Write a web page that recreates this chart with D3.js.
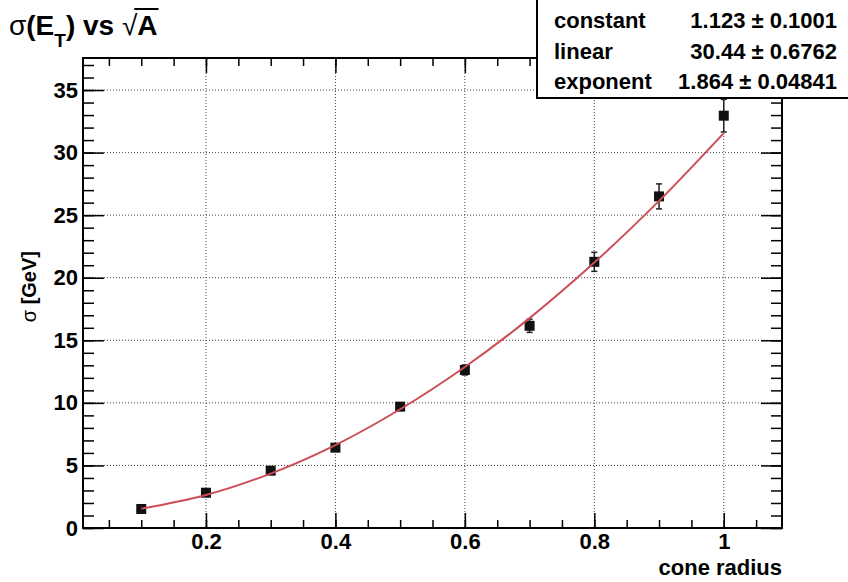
<!DOCTYPE html>
<html>
<head>
<meta charset="utf-8">
<title>sigma(E_T) vs sqrt(A)</title>
<script src="https://d3js.org/d3.v7.min.js"></script>
<style>
  body { margin: 0; background: #fff; }
  text { font-family: "Liberation Sans", Arial, sans-serif; font-weight: bold; fill: #000; }
</style>
</head>
<body>
<div id="my_dataviz"></div>
<script>

// cone radius values and fitted sigma [GeV]
var coneRadius = [0.1, 0.2, 0.3, 0.4, 0.5, 0.6, 0.7, 0.8, 0.9, 1.0];
var sigma      = [1.52, 2.82, 4.58, 6.42, 9.7, 12.63, 16.16, 21.27, 26.5, 32.95];
var sigmaErr   = [0.15, 0.2, 0.2, 0.25, 0.3, 0.4, 0.53, 0.76, 1.0, 1.3];

// red fit curve, sampled along the picture
var fitX = [0.1, 0.2, 0.3, 0.4, 0.5, 0.6, 0.7, 0.8, 0.9, 1.0];
var fitY = [1.54, 2.64, 4.35, 6.63, 9.49, 12.87, 16.77, 21.21, 26.14, 31.56];

// tick labels
var xTicks = [0.2, 0.4, 0.6, 0.8, 1];
var xTickLabels = ["0.2", "0.4", "0.6", "0.8", "1"];
var yTicks = [0, 5, 10, 15, 20, 25, 30, 35];

// fit parameters box
var statNames  = ["constant", "linear", "exponent"];
var statValues = ["1.123 \u00b1 0.1001", "30.44 \u00b1 0.6762", "1.864 \u00b1 0.04841"];

var W = 848, H = 582;
var frame = {left: 83, right: 782, top: 58, bottom: 528};

var svg = d3.select("#my_dataviz")
  .append("svg")
    .attr("width", W)
    .attr("height", H);

var x = d3.scaleLinear()
  .domain([0.01, 1.09])
  .range([frame.left, frame.right]);

var y = d3.scaleLinear()
  .domain([0, 37.56])
  .range([frame.bottom, frame.top]);

// grid (dotted) at major ticks
var grid = svg.append("g").attr("stroke", "#444").attr("stroke-width", 1).attr("stroke-dasharray", "1,2");
grid.selectAll("line.gx")
  .data(xTicks)
  .enter().append("line")
    .attr("x1", function(d) { return x(d); })
    .attr("x2", function(d) { return x(d); })
    .attr("y1", frame.top)
    .attr("y2", frame.bottom);
grid.selectAll("line.gy")
  .data(yTicks.slice(1))
  .enter().append("line")
    .attr("x1", frame.left)
    .attr("x2", frame.right)
    .attr("y1", function(d) { return y(d); })
    .attr("y2", function(d) { return y(d); });

// minor ticks
var xMinor = d3.range(0.05, 1.09, 0.05);
var yMinor = d3.range(0, 37.5, 1);

function styleAxis(g) {
  g.select(".domain").remove();
  g.selectAll(".tick line").attr("stroke", "#000").attr("stroke-width", 1.5);
}

// bottom axis
svg.append("g")
  .attr("transform", "translate(0," + frame.bottom + ")")
  .call(d3.axisBottom(x).tickValues(xMinor).tickSize(-8).tickFormat(""))
  .call(styleAxis);
svg.append("g")
  .attr("transform", "translate(0," + frame.bottom + ")")
  .call(d3.axisBottom(x).tickValues(xTicks).tickSize(-15).tickPadding(6)
    .tickFormat(function(d, i) { return xTickLabels[i]; }))
  .call(styleAxis)
  .selectAll("text").attr("font-size", 22).attr("font-family", null).attr("dy", "0.7em");

// top axis (ticks only)
svg.append("g")
  .attr("transform", "translate(0," + frame.top + ")")
  .call(d3.axisTop(x).tickValues(xMinor).tickSize(-8).tickFormat(""))
  .call(styleAxis);
svg.append("g")
  .attr("transform", "translate(0," + frame.top + ")")
  .call(d3.axisTop(x).tickValues(xTicks).tickSize(-15).tickFormat(""))
  .call(styleAxis);

// left axis
svg.append("g")
  .attr("transform", "translate(" + frame.left + ",0)")
  .call(d3.axisLeft(y).tickValues(yMinor).tickSize(-11).tickFormat(""))
  .call(styleAxis);
svg.append("g")
  .attr("transform", "translate(" + frame.left + ",0)")
  .call(d3.axisLeft(y).tickValues(yTicks).tickSize(-21).tickPadding(5))
  .call(styleAxis)
  .selectAll("text").attr("font-size", 22).attr("font-family", null);

// right axis (ticks only)
svg.append("g")
  .attr("transform", "translate(" + frame.right + ",0)")
  .call(d3.axisRight(y).tickValues(yMinor).tickSize(-11).tickFormat(""))
  .call(styleAxis);
svg.append("g")
  .attr("transform", "translate(" + frame.right + ",0)")
  .call(d3.axisRight(y).tickValues(yTicks).tickSize(-21).tickFormat(""))
  .call(styleAxis);

// frame
svg.append("rect")
  .attr("x", frame.left)
  .attr("y", frame.top)
  .attr("width", frame.right - frame.left)
  .attr("height", frame.bottom - frame.top)
  .attr("fill", "none")
  .attr("stroke", "#000")
  .attr("stroke-width", 2);

// error bars
var pts = coneRadius.map(function(d, i) { return {x: d, y: sigma[i], e: sigmaErr[i]}; });
var eb = svg.append("g").attr("stroke", "#222").attr("stroke-width", 1.5);
eb.selectAll("line.bar")
  .data(pts)
  .enter().append("line")
    .attr("x1", function(d) { return x(d.x); })
    .attr("x2", function(d) { return x(d.x); })
    .attr("y1", function(d) { return y(d.y - d.e); })
    .attr("y2", function(d) { return y(d.y + d.e); });
eb.selectAll("line.capt")
  .data(pts)
  .enter().append("line")
    .attr("x1", function(d) { return x(d.x) - 3; })
    .attr("x2", function(d) { return x(d.x) + 3; })
    .attr("y1", function(d) { return y(d.y + d.e); })
    .attr("y2", function(d) { return y(d.y + d.e); });
eb.selectAll("line.capb")
  .data(pts)
  .enter().append("line")
    .attr("x1", function(d) { return x(d.x) - 3; })
    .attr("x2", function(d) { return x(d.x) + 3; })
    .attr("y1", function(d) { return y(d.y - d.e); })
    .attr("y2", function(d) { return y(d.y - d.e); });

// markers
svg.selectAll("rect.pt")
  .data(pts)
  .enter().append("rect")
    .attr("x", function(d) { return x(d.x) - 5; })
    .attr("y", function(d) { return y(d.y) - 5; })
    .attr("width", 10)
    .attr("height", 10)
    .attr("fill", "#111");

// fit curve
var fitPts = fitX.map(function(d, i) { return [d, fitY[i]]; });
svg.append("path")
  .datum(fitPts)
  .attr("fill", "none")
  .attr("stroke", "#cd4d58")
  .attr("stroke-width", 2)
  .attr("d", d3.line()
    .x(function(d) { return x(d[0]); })
    .y(function(d) { return y(d[1]); })
    .curve(d3.curveCatmullRom));

// axis titles
svg.append("text")
  .attr("x", frame.right)
  .attr("y", 575)
  .attr("text-anchor", "end")
  .attr("font-size", 22)
  .text("cone radius");

svg.append("text")
  .attr("transform", "translate(36,251) rotate(-90)")
  .attr("text-anchor", "end")
  .attr("font-size", 20)
  .call(function(t) {
    t.append("tspan").attr("font-weight", "normal").text("\u03c3");
    t.append("tspan").text(" [GeV]");
  });

// title
var title = svg.append("text")
  .attr("x", 9)
  .attr("y", 35)
  .attr("font-size", 28);
title.append("tspan").attr("font-weight", "normal").text("\u03c3");
title.append("tspan").text("(E");
title.append("tspan").attr("font-size", 19).attr("dy", 12).text("T");
title.append("tspan").attr("dy", -12).text(") vs ");
title.append("tspan").attr("font-weight", "normal").text("\u221a");
title.append("tspan").text("A");
var tn = title.node();
var nChars = tn.getNumberOfChars();
var aStart = tn.getStartPositionOfChar(nChars - 1).x;
var aEnd = tn.getEndPositionOfChar(nChars - 1).x;
svg.append("line")
  .attr("x1", aStart - 3)
  .attr("x2", aEnd + 1)
  .attr("y1", 9)
  .attr("y2", 9)
  .attr("stroke", "#000")
  .attr("stroke-width", 2);

// stat box
var box = svg.append("g");
box.append("rect")
  .attr("x", 537)
  .attr("y", -2)
  .attr("width", 320)
  .attr("height", 100)
  .attr("fill", "#fff")
  .attr("stroke", "#000")
  .attr("stroke-width", 2);
statNames.forEach(function(s, i) {
  box.append("text")
    .attr("x", 554)
    .attr("y", 28 + i * 30.5)
    .attr("font-size", 22)
    .text(s);
  box.append("text")
    .attr("x", 837)
    .attr("y", 28 + i * 30.5)
    .attr("text-anchor", "end")
    .attr("font-size", 22)
    .text(statValues[i]);
});

</script>
</body>
</html>
